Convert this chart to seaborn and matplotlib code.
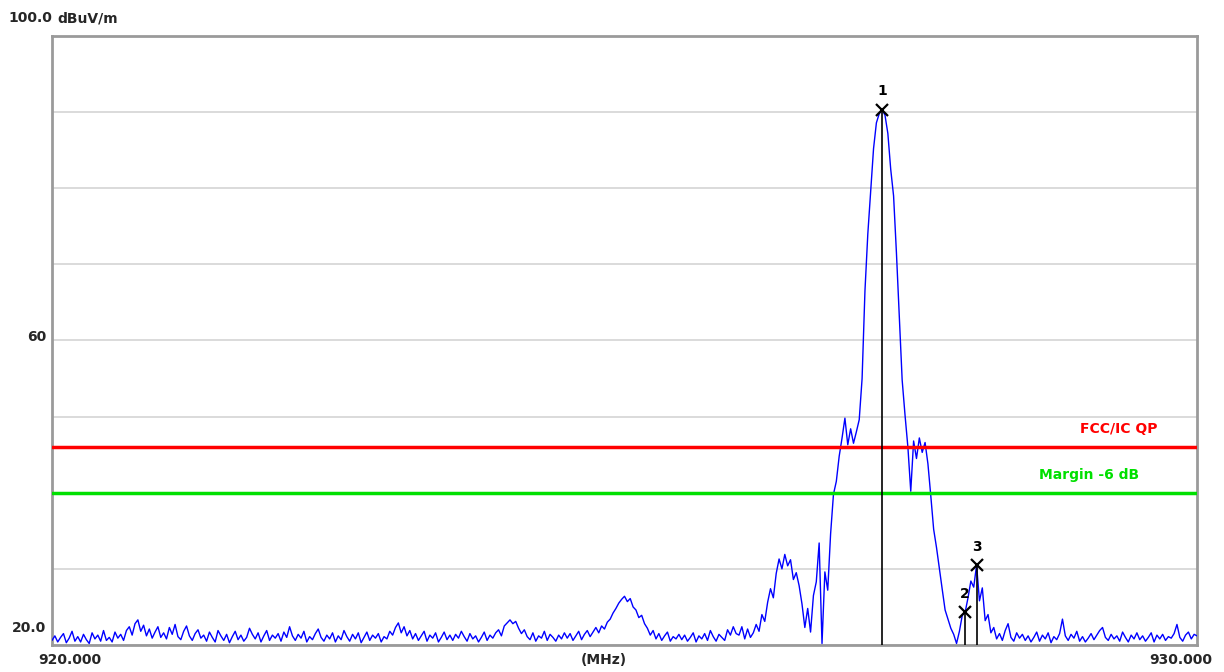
import numpy as np
import pandas as pd
import matplotlib
matplotlib.use("Agg")
import matplotlib.pyplot as plt
import seaborn as sns

# sweep settings (MHz)
f_start = 920.0
f_stop = 930.0
f_step = 0.025

# measured level, dBuV/m, one row per 0.5 MHz
level = [
    20.6, 21.2, 20.4, 21.0, 21.5, 20.3, 20.9, 21.8, 20.5, 21.1, 20.4, 21.4, 20.7, 20.2, 21.6, 20.8, 21.3, 20.5, 21.9, 20.6,
    21.0, 20.4, 21.7, 20.9, 21.4, 20.6, 21.9, 22.4, 21.3, 22.8, 23.3, 21.8, 22.6, 21.2, 22.1, 20.9, 21.7, 22.4, 21.0, 21.6,
    20.8, 22.3, 21.4, 22.7, 21.1, 20.7, 21.8, 22.5, 21.2, 20.6, 21.5, 22.0, 20.9, 21.3, 20.5, 21.7, 21.0, 20.4, 21.9, 21.2,
    20.6, 21.4, 20.3, 21.1, 21.8, 20.7, 21.3, 20.5, 21.0, 22.2, 21.4, 20.8, 21.6, 20.4, 21.2, 21.9, 20.6, 21.3, 20.9, 21.5,
    20.5, 21.7, 21.0, 22.4, 21.2, 20.6, 21.4, 20.9, 21.8, 20.4, 21.1, 20.7, 21.5, 22.1, 21.0, 20.5, 21.3, 20.8, 21.6, 20.4,
    21.2, 20.7, 21.9, 21.1, 20.5, 21.4, 20.8, 21.6, 20.3, 21.0, 21.7, 20.6, 21.3, 20.9, 21.5, 20.4, 21.1, 20.8, 21.8, 21.3,
    22.3, 22.9, 21.6, 22.4, 21.2, 21.9, 20.8, 21.5, 20.6, 21.2, 21.8, 20.5, 21.3, 20.9, 21.6, 20.4, 21.0, 21.7, 20.7, 21.3,
    20.6, 21.4, 20.9, 21.8, 21.1, 20.5, 21.5, 20.8, 21.2, 20.4, 21.0, 21.7, 20.6, 21.3, 20.9, 21.6, 22.0, 21.2, 22.5, 22.9,
    23.3, 22.8, 23.1, 22.2, 21.5, 22.0, 21.1, 20.7, 21.6, 20.5, 21.2, 20.9, 21.8, 20.6, 21.4, 21.0, 20.5, 21.3, 20.8, 21.6,
    20.9, 21.5, 20.6, 21.2, 21.8, 20.7, 21.4, 21.9, 21.1, 21.7, 22.3, 21.6, 22.5, 22.1, 23.0, 23.4, 24.2, 24.8, 25.5, 26.0,
    26.4, 25.7, 26.1, 25.0, 24.6, 23.6, 23.9, 22.8, 22.2, 21.3, 21.9, 20.8, 21.5, 20.6, 21.2, 21.7, 20.5, 21.1, 20.8, 21.4,
    20.7, 21.3, 20.5, 21.0, 21.6, 20.4, 21.2, 20.8, 21.5, 20.6, 21.9, 21.1, 20.5, 21.4, 21.0, 20.6, 22.0, 21.3, 22.4, 21.5,
    21.3, 22.4, 20.8, 22.1, 21.0, 21.6, 22.7, 21.8, 24.0, 23.1, 25.6, 27.4, 26.2, 29.4, 31.3, 30.0, 31.9, 30.4, 31.2, 28.6,
    29.5, 27.8, 25.4, 22.3, 24.8, 21.7, 26.5, 28.3, 33.4, 20.2, 29.6, 27.2, 34.6, 39.8, 41.5, 44.8, 47.2, 49.8, 46.3, 48.4,
    46.5, 48.0, 49.6, 55.0, 66.5, 74.0, 79.5, 85.2, 88.6, 89.8, 90.3, 89.6, 87.2, 82.5, 79.0, 71.5, 63.0, 54.8, 50.2, 46.0,
    40.2, 46.8, 44.5, 47.2, 45.3, 46.6, 43.8, 39.6, 35.2, 32.8, 30.0, 27.3, 24.6, 23.4, 22.2, 21.4, 20.2, 21.8, 23.9, 24.3,
    26.2, 28.4, 27.6, 30.5, 25.8, 27.5, 23.2, 24.0, 21.6, 22.3, 20.8, 21.5, 20.6, 21.9, 22.8, 21.0, 20.5, 21.6, 20.9, 21.4,
    20.6, 21.2, 20.4, 21.0, 21.7, 20.5, 21.3, 20.8, 21.6, 20.3, 21.1, 20.7, 21.5, 23.4, 21.2, 20.6, 21.4, 20.9, 21.8, 20.5,
    21.1, 20.4, 20.9, 21.5, 20.7, 21.3, 21.9, 22.3, 21.0, 20.6, 21.4, 20.8, 21.2, 20.5, 21.7, 21.0, 20.4, 21.3, 20.8, 21.6,
    20.7, 21.2, 20.5, 21.0, 21.6, 20.4, 21.3, 20.8, 21.4, 20.6, 21.1, 20.9, 21.5, 22.7, 21.0, 20.5, 21.3, 21.7, 20.8, 21.4,
    21.2,
]

# peak markers
marker_id = ["1", "2", "3"]
marker_freq = [927.250, 927.975, 928.075]
marker_level = [90.3, 24.3, 30.5]

# limit lines
limit_names = ["FCC/IC QP", "Margin -6 dB"]
limit_levels = [46.0, 40.0]
limit_colors = ["#ff0000", "#00e000"]

# axis labels
ytick_vals = [100, 60, 20]
ytick_labels = ["100.0", "60", "20.0"]
xtick_vals = [920, 930]
xtick_labels = ["920.000", "930.000"]

freq = f_start + f_step * np.arange(len(level))
df = pd.DataFrame({"freq": freq, "level": level})

sns.set_style("white")
plt.rcParams["font.family"] = ["DejaVu Sans"]

W, H = 1224, 672
fig = plt.figure(figsize=(W / 100, H / 100), dpi=100)
ax = fig.add_axes([52 / W, 1 - 645 / H, (1197 - 52) / W, (645 - 36) / H])

# horizontal grid every 10 dB
ax.set_yticks(np.arange(20, 101, 10))
ax.set_xticks([])
ax.yaxis.grid(True, color="#d4d4d4", linewidth=1.2)
ax.tick_params(left=False, labelleft=False)
ax.set_xlim(f_start, f_stop)
ax.set_ylim(20, 100)

for spine in ax.spines.values():
    spine.set_color("#9a9a9a")
    spine.set_linewidth(2)

sns.lineplot(data=df, x="freq", y="level", color="#0000ff", linewidth=1.0, ax=ax, zorder=3)

# limit lines
for name, lv, col in zip(limit_names, limit_levels, limit_colors):
    ax.axhline(lv, color=col, linewidth=2.5, zorder=4)
ax.text(929.32, limit_levels[0] + 1.4, limit_names[0], color=limit_colors[0],
        fontsize=10, fontweight="bold", ha="center", va="bottom")
ax.text(929.06, limit_levels[1] + 1.4, limit_names[1], color=limit_colors[1],
        fontsize=10, fontweight="bold", ha="center", va="bottom")

# markers with drop lines
for mid, mf, ml in zip(marker_id, marker_freq, marker_level):
    ax.vlines(mf, 20, ml, color="black", linewidth=1.2, zorder=5)
    ax.plot(mf, ml, marker="x", color="black", markersize=9, mew=1.6, zorder=6)
    ax.text(mf, ml + 1.5, mid, color="black", fontsize=10, fontweight="bold",
            ha="center", va="bottom", zorder=6)
ax.set_xlabel("")
ax.set_ylabel("")

# axis texts drawn in the same spots as the analyser screen
fig.text(8 / W, 1 - 18 / H, ytick_labels[0], fontsize=10, fontweight="bold", va="center", ha="left")
fig.text(57 / W, 1 - 18 / H, "dBuV/m", fontsize=10, fontweight="bold", va="center", ha="left")
fig.text(46 / W, 1 - 337 / H, ytick_labels[1], fontsize=10, fontweight="bold", va="center", ha="right")
fig.text(46 / W, 1 - 628 / H, ytick_labels[2], fontsize=10, fontweight="bold", va="center", ha="right")
fig.text(70 / W, 1 - 660 / H, xtick_labels[0], fontsize=10, fontweight="bold", va="center", ha="center")
fig.text(604 / W, 1 - 660 / H, "(MHz)", fontsize=10, fontweight="bold", va="center", ha="center")
fig.text(1181 / W, 1 - 660 / H, xtick_labels[1], fontsize=10, fontweight="bold", va="center", ha="center")

fig.savefig("out.png", dpi=100)
